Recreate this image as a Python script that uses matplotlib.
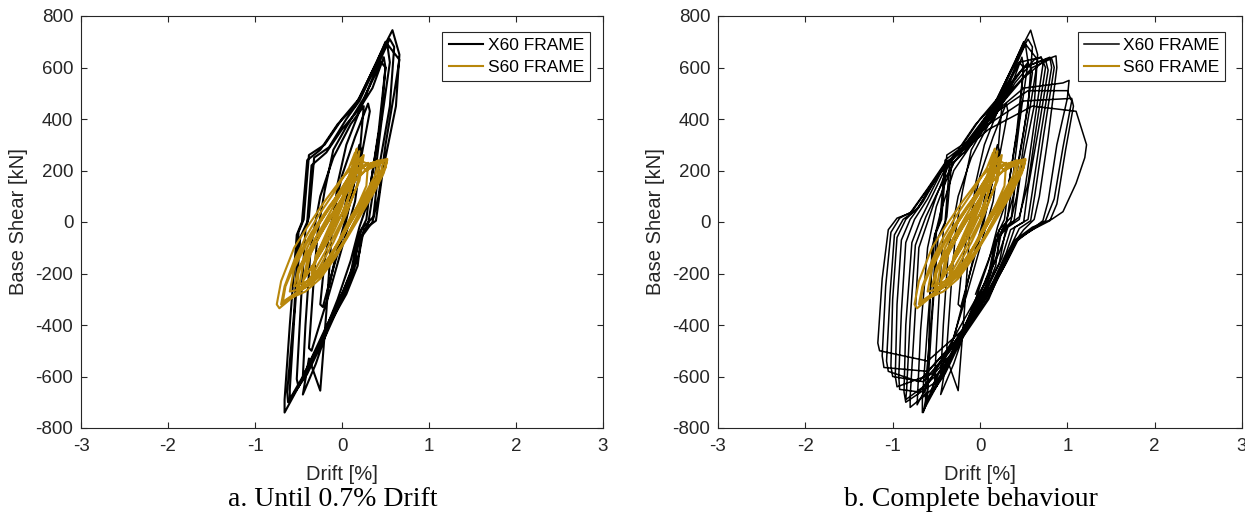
import matplotlib
matplotlib.use("Agg")
import matplotlib.pyplot as plt

# -------------------------
# Hysteresis data
# -------------------------
# X60 frame, cycles up to ~0.7 % drift
x60_drift_a = [
    0.00, 0.10, 0.20, 0.22, 0.12, 0.02, -0.10, -0.22, -0.25,
    -0.20, -0.12, 0.00, 0.15, 0.30, 0.32, 0.22, 0.15, 0.00, -0.15, -0.35, -0.38,
    -0.33, -0.28, -0.20, -0.10, 0.05, 0.25, 0.45, 0.50, 0.45, 0.33, 0.28, 0.18, 0.10, -0.05, -0.25, -0.50, -0.52,
    -0.47, -0.42, -0.38, -0.32, -0.15, 0.05, 0.20, 0.45, 0.55, 0.60, 0.55, 0.42, 0.36, 0.22, 0.15, 0.00, -0.20, -0.45, -0.62, -0.63,
    -0.55, -0.50, -0.44, -0.38, -0.20, 0.00, 0.20, 0.45, 0.58, 0.66, 0.62, 0.47, 0.39, 0.25, 0.20, 0.07, -0.10, -0.30, -0.50, -0.66, -0.66,
    -0.60, -0.52, -0.46, -0.40, -0.25, -0.05, 0.15, 0.40, 0.50, 0.66, 0.60, 0.50, 0.42, 0.35, 0.22, 0.18, 0.05, -0.15, -0.30, -0.45,
    -0.38, -0.25, -0.18, -0.12, -0.05, 0.05, 0.20, 0.40, 0.52, 0.55, 0.45, 0.35, 0.30, 0.18, 0.12, 0.00, -0.20, -0.40, -0.60, -0.60,
    -0.55, -0.48, -0.40, -0.35, -0.18, 0.00, 0.20, 0.35, 0.48, 0.50, 0.42, 0.30, 0.20, 0.10, -0.05, -0.25, -0.45,
    -0.42, -0.36, -0.25, -0.10, 0.10, 0.25, 0.20, 0.08, -0.05, -0.15,
]
x60_shear_a = [
    0, 180, 300, 280, 120, -40, -180, -330, -320,
    -150, 0, 180, 330, 460, 430, 250, 80, -100, -280, -500, -490,
    -250, -40, 120, 280, 370, 480, 620, 600, 400, 150, 10, -60, -200, -320, -480, -640, -610,
    -300, -30, 20, 250, 290, 400, 470, 650, 710, 680, 450, 200, 20, -30, -150, -280, -420, -600, -700, -660,
    -350, -40, 10, 260, 300, 400, 480, 660, 745, 650, 450, 200, 5, -30, -120, -250, -360, -500, -640, -740, -690,
    -400, -50, 0, 240, 280, 380, 450, 620, 700, 630, 500, 300, 100, 0, -60, -170, -280, -400, -550, -670,
    -530, -655, -350, -50, 150, 300, 430, 600, 690, 620, 380, 100, -10, -80, -200, -300, -450, -590, -690, -650,
    -380, -60, 0, 220, 270, 360, 440, 520, 640, 600, 350, 80, -20, -150, -300, -470, -600,
    -400, -100, 100, 250, 380, 450, 250, 60, -100, -250,
]

# X60 frame, remaining larger cycles (complete behaviour)
x60_drift_b = [
    -0.30, -0.55, -0.80, -0.80, -0.75, -0.70, -0.60, -0.50, -0.35, -0.20, 0.00, 0.20, 0.45, 0.70, 0.75,
    0.65, 0.55, 0.45, 0.30, 0.22, 0.05, -0.20, -0.50, -0.85, -0.87,
    -0.85, -0.78, -0.68, -0.55, -0.38, -0.20, 0.00, 0.25, 0.50, 0.80, 0.82,
    0.70, 0.60, 0.55, 0.40, 0.30, 0.15, -0.10, -0.40, -0.70, -0.92, -0.93,
    -0.90, -0.85, -0.75, -0.60, -0.42, -0.25, -0.05, 0.20, 0.50, 0.87, 0.88,
    0.78, 0.68, 0.62, 0.50, 0.35, 0.20, 0.00, -0.30, -0.65, -1.00, -1.02,
    -1.00, -0.95, -0.85, -0.70, -0.50, -0.30, -0.10, 0.15, 0.50, 0.95, 1.02, 1.00,
    0.88, 0.78, 0.72, 0.55, 0.40, 0.25, 0.05, -0.25, -0.60, -1.10, -1.12,
    -1.08, -1.02, -0.92, -0.78, -0.55, -0.35, -0.15, 0.10, 0.50, 1.05, 1.07,
    0.98, 0.88, 0.80, 0.60, 0.45, 0.30, 0.10, -0.20, -0.60, -1.15, -1.17,
    -1.12, -1.05, -0.95, -0.80, -0.60, -0.40, -0.15, 0.10, 0.60, 1.10, 1.22, 1.20,
    1.10, 0.95, 0.82, 0.60, 0.40, 0.25, 0.10, -0.10, -0.30, -0.50, -0.65, -0.60,
    -0.58, -0.55, -0.45, -0.30, -0.10, 0.20, 0.50, 0.75, 0.78,
    0.68, 0.55, 0.50, 0.35, 0.25, 0.05, -0.30, -0.70, -1.05, -1.07,
    -1.03, -0.98, -0.88, -0.72, -0.52, -0.32, -0.10, 0.20, 0.55, 1.00, 1.05,
    0.95, 0.85, 0.75, 0.58, 0.42, 0.28, 0.10, -0.20, -0.55, -0.95, -0.97,
    -0.95, -0.90, -0.80, -0.65, -0.45, -0.25, 0.00, 0.30, 0.60, 0.82, 0.85,
    0.73, 0.63, 0.58, 0.45, 0.33, 0.18, -0.05, -0.35, -0.65, -0.85, -0.84,
    -0.80, -0.74, -0.62, -0.48, -0.30, -0.10, 0.15, 0.40, 0.62, 0.70, 0.72,
    0.62, 0.52, 0.45, 0.32, 0.22, 0.05, -0.25, -0.55, -0.72,
    -0.68, -0.60, -0.50, -0.40, -0.30, -0.15, 0.05, 0.30, 0.55, 0.60, 0.50, 0.38, 0.30, 0.15, -0.05,
]
x60_shear_b = [
    -450, -650, -720, -680, -400, -100, 0, 100, 230, 290, 380, 470, 620, 640, 600,
    380, 150, 20, -20, -160, -280, -450, -620, -700, -660,
    -400, -80, 10, 100, 220, 280, 370, 480, 600, 640, 600,
    350, 120, 10, -20, -120, -230, -380, -560, -660, -650, -600,
    -350, -80, 10, 90, 210, 270, 350, 470, 600, 645, 600,
    330, 100, 10, -30, -100, -220, -330, -480, -620, -600, -560,
    -300, -60, 10, 60, 170, 260, 320, 420, 520, 540, 550, 480,
    300, 80, 5, -40, -80, -180, -300, -450, -580, -565, -520,
    -250, -40, 15, 40, 150, 240, 300, 380, 470, 480, 450,
    280, 70, 5, -30, -60, -160, -280, -420, -540, -500, -470,
    -220, -30, 15, 35, 130, 230, 290, 360, 450, 430, 300, 250,
    150, 40, 10, -20, -70, -180, -300, -400, -500, -600, -740, -650,
    -400, -100, 40, 200, 300, 440, 560, 630, 590,
    380, 130, 0, -30, -140, -280, -470, -620, -580, -540,
    -280, -50, 10, 50, 160, 250, 320, 430, 510, 510, 470,
    290, 90, 5, -35, -70, -170, -290, -440, -590, -640, -600,
    -320, -70, 10, 80, 200, 270, 360, 490, 600, 635, 600,
    340, 110, 5, -25, -110, -220, -350, -520, -640, -690, -650,
    -380, -90, 20, 120, 230, 300, 400, 540, 630, 640, 610,
    380, 140, 10, -20, -120, -240, -420, -600, -710,
    -420, -100, 60, 150, 230, 300, 380, 520, 620, 580, 350, 100, 0, -100, -280,
]

# S60 frame
s60_drift = [
    0.00, 0.10, 0.17, 0.12, 0.00, -0.15, -0.30, -0.35, -0.28, -0.15, 0.00, 0.10, 0.22,
    0.18, 0.05, -0.10, -0.30, -0.50, -0.45, -0.30, -0.10, 0.10, 0.30, 0.28, 0.15, 0.00,
    -0.20, -0.45, -0.72, -0.75, -0.70, -0.55, -0.40, -0.20, 0.00, 0.20, 0.30, 0.40, 0.52,
    0.50, 0.35, 0.20, 0.05, -0.15, -0.35, -0.55, -0.68, -0.65, -0.50, -0.35, -0.15, 0.05,
    0.25, 0.45, 0.50, 0.40, 0.25, 0.10, -0.05, -0.25, -0.45, -0.60, -0.55, -0.40, -0.25,
    -0.05, 0.12, 0.20, 0.16, 0.05, -0.10, -0.30, -0.45, -0.40, -0.25, -0.05, 0.15, 0.35,
    0.48, 0.45, 0.30, 0.15, 0.00, -0.20, -0.40, -0.55, -0.50, -0.30, -0.10, 0.05, 0.18,
    0.25, 0.20, 0.05, -0.10, -0.25, -0.35, -0.30, -0.15, 0.00,
    0.10, 0.15, 0.22, 0.35, 0.42, 0.38, 0.25, 0.10, -0.05, -0.20, -0.38, -0.52, -0.50,
    -0.40, -0.25, -0.10, 0.05, 0.18, 0.28, 0.45, 0.52, 0.48, 0.36, 0.22, 0.08, -0.08,
    -0.25, -0.42, -0.62, -0.70, -0.66, -0.55, -0.42, -0.28, -0.10, 0.08, 0.15, 0.10,
    -0.02, -0.18, -0.32, -0.42, -0.36, -0.20, -0.02, 0.12, 0.30, 0.44, 0.40, 0.28, 0.12,
    -0.02, -0.15,
]
s60_shear = [
    0, 120, 285, 200, 60, -60, -150, -200, -120, -20, 90, 200, 250,
    150, 30, -80, -200, -260, -170, -60, 60, 170, 230, 140, 40, -60,
    -170, -260, -335, -320, -230, -100, -20, 80, 170, 240, 225, 235, 245,
    210, 130, 40, -60, -160, -240, -280, -310, -250, -130, -40, 60, 150,
    220, 235, 220, 150, 60, -30, -120, -210, -260, -270, -180, -80, 0,
    100, 200, 275, 180, 70, -40, -150, -230, -150, -50, 60, 160, 230,
    240, 200, 120, 30, -60, -160, -230, -250, -180, -60, 40, 120, 230,
    260, 160, 40, -60, -150, -210, -130, -40, 30,
    120, 200, 215, 225, 240, 180, 100, 20, -80, -170, -240, -265, -200,
    -100, 0, 80, 160, 230, 200, 230, 240, 190, 110, 30, -50, -140,
    -220, -270, -300, -320, -250, -150, -60, 20, 110, 210, 270, 190,
    60, -60, -160, -210, -120, -20, 80, 150, 210, 230, 170, 100, 10,
    -70, -150,
]

captions = ["a. Until 0.7% Drift", "b. Complete behaviour"]

# -------------------------
# Figure
# -------------------------
plt.rcParams["font.family"] = ["Liberation Sans", "DejaVu Sans"]
plt.rcParams["axes.unicode_minus"] = False
axis_grey = "#262626"
gold = "#B8870B"

W, H = 1245, 517
fig = plt.figure(figsize=(W / 100, H / 100), dpi=100)
ax_a = fig.add_axes([81 / W, 89 / H, 522 / W, 412 / H])
ax_b = fig.add_axes([718 / W, 89 / H, 524 / W, 412 / H])

ax_a.plot(x60_drift_a, x60_shear_a, color="black", lw=1.5, label="X60 FRAME")
ax_a.plot(s60_drift, s60_shear, color=gold, lw=1.5, label="S60 FRAME")

ax_b.plot(x60_drift_a + x60_drift_b, x60_shear_a + x60_shear_b,
          color="black", lw=1.1, label="X60 FRAME")
ax_b.plot(s60_drift, s60_shear, color=gold, lw=1.5, label="S60 FRAME")

legend_anchor = [(0.975, 0.961), (0.968, 0.961)]
caption_x = [333, 971]

for ax, cap, anchor, cx in zip([ax_a, ax_b], captions, legend_anchor, caption_x):
    ax.set_xlim(-3, 3)
    ax.set_ylim(-800, 800)
    ax.set_xticks(range(-3, 4))
    ax.set_yticks(range(-800, 801, 200))
    ax.tick_params(direction="in", top=True, right=True, length=4,
                   width=0.8, labelsize=13.5, colors=axis_grey, pad=5.5)
    ax.tick_params(axis="x", pad=7.5)
    for sp in ax.spines.values():
        sp.set_color(axis_grey)
        sp.set_linewidth(0.8)
    ax.set_xlabel("Drift [%]", fontsize=14.5, color=axis_grey)
    ax.set_ylabel("Base Shear [kN]", fontsize=14.5, color=axis_grey)
    ax.xaxis.set_label_coords(0.5, -0.09)
    ax.yaxis.set_label_coords(-0.101, 0.5)
    leg = ax.legend(loc="upper right", bbox_to_anchor=anchor, borderaxespad=0,
                    fontsize=12.5, frameon=True, fancybox=False,
                    handlelength=2.0, handletextpad=0.25, borderpad=0.35,
                    labelspacing=0.4, framealpha=1)
    leg.get_frame().set_edgecolor(axis_grey)
    leg.get_frame().set_linewidth(0.8)
    fig.text(cx / W, 0.033, cap, ha="center", va="center",
             fontsize=20, family="Liberation Serif")

fig.savefig("out.png", dpi=100)
